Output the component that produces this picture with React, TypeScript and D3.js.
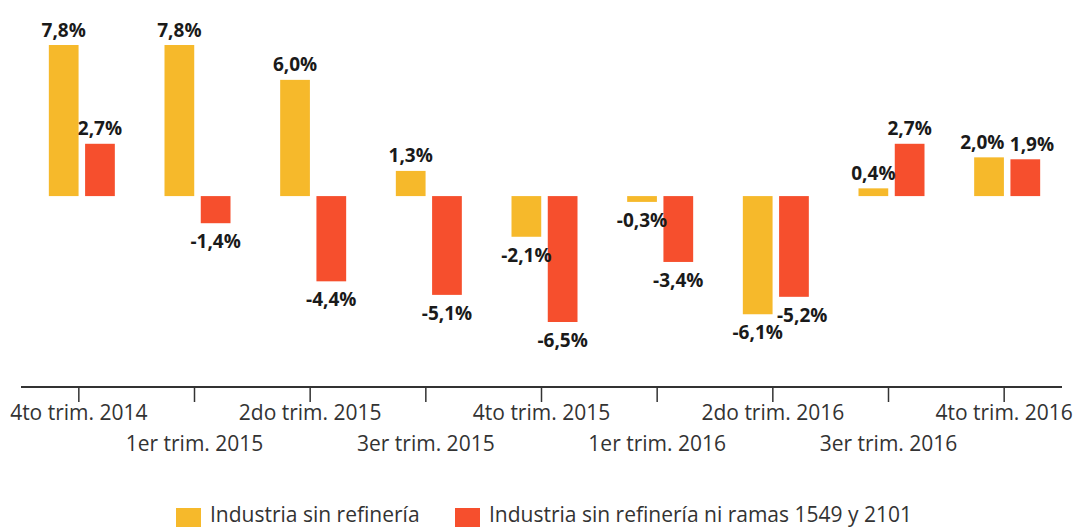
import React from "react";
import * as d3 from "d3";

const categories = [
  "4to trim. 2014",
  "1er trim. 2015",
  "2do trim. 2015",
  "3er trim. 2015",
  "4to trim. 2015",
  "1er trim. 2016",
  "2do trim. 2016",
  "3er trim. 2016",
  "4to trim. 2016",
];
const seriesNames = ["Industria sin refinería", "Industria sin refinería ni ramas 1549 y 2101"];
const industriaSinRefineria = [7.8, 7.8, 6.0, 1.3, -2.1, -0.3, -6.1, 0.4, 2.0];
const industriaSinRamas = [2.7, -1.4, -4.4, -5.1, -6.5, -3.4, -5.2, 2.7, 1.9];
const colors = ["#F6B92B", "#F64F2D"];

const W = 1074;
const H = 527;
const FONT = "'Open Sans', 'Noto Sans', sans-serif";
const VAL_SIZE = 19;

const fmt = (v: number) => v.toFixed(1).replace(".", ",") + "%";

export default function App() {
  const series = [industriaSinRefineria, industriaSinRamas];
  const x = d3.scaleBand<string>().domain(categories).range([21, 1062]).padding(0);
  const x1 = d3.scaleBand<number>().domain([0, 1]).range([0, 66]).paddingInner(0.18);
  const y = d3.scaleLinear().domain([-6.5, 7.8]).range([322, 45]);
  const axisY = 387;

  const estW = (s: string) => s.length * VAL_SIZE * 0.6;

  // labels with simple collision avoidance
  const groups = categories.map((c, i) => {
    const cx = (x(c) as number) + x.bandwidth() / 2;
    const items = series.map((s, k) => {
      const v = s[i];
      const bx = cx - 30 + (x1(k) as number);
      const bw = x1.bandwidth();
      const top = y(Math.max(0, v));
      const bottom = y(Math.min(0, v));
      const ly = v >= 0 ? top - 8.5 : bottom + 25;
      return { k, v, bx, bw, top, bottom, lx: bx + bw / 2, ly, text: fmt(v) };
    });
    const [a, b] = items;
    const dy = Math.abs(a.ly - b.ly);
    if (dy < 22) {
      const need = (estW(a.text) + estW(b.text)) / 2 + 4;
      const have = b.lx - a.lx;
      if (have < need) {
        if (dy < 8) {
          const d = (need - have) / 2;
          a.lx -= d;
          b.lx += d;
        } else {
          // partial vertical overlap: nudge the shorter bar's label outward
          const d = (need - have) / 3;
          if (Math.abs(a.v) < Math.abs(b.v)) a.lx -= d;
          else b.lx += d;
        }
      }
    }
    return { c, cx, items };
  });

  return (
    <svg
      width={W}
      height={H}
      style={{ position: "absolute", left: 0, top: 0, background: "#fff" }}
      fontFamily={FONT}
    >
      {groups.map((g) =>
        g.items.map((it) => (
          <rect
            key={g.c + it.k}
            x={it.bx}
            y={it.top}
            width={it.bw}
            height={Math.max(1, it.bottom - it.top)}
            fill={colors[it.k]}
          />
        ))
      )}
      {groups.map((g) =>
        g.items.map((it) => (
          <text
            key={"l" + g.c + it.k}
            x={it.lx}
            y={it.ly}
            textAnchor="middle"
            fontSize={VAL_SIZE}
            fontWeight={700}
            fill="#1a1a1a"
          >
            {it.text}
          </text>
        ))
      )}
      <line x1={21} x2={1062} y1={axisY} y2={axisY} stroke="#333" strokeWidth={2} />
      {groups.map((g, i) => (
        <g key={"t" + g.c}>
          <line x1={g.cx} x2={g.cx} y1={axisY} y2={axisY + 15} stroke="#333" strokeWidth={1.5} />
          <text
            x={g.cx}
            y={i % 2 === 0 ? 420 : 451}
            textAnchor="middle"
            fontSize={21}
            fill="#333"
          >
            {g.c}
          </text>
        </g>
      ))}
      {seriesNames.map((n, k) => {
        const lx = k === 0 ? 176 : 455;
        return (
          <g key={"lg" + k}>
            <rect x={lx} y={508} width={25} height={25} fill={colors[k]} />
            <text x={lx + 34} y={522} fontSize={21} fill="#333">
              {n}
            </text>
          </g>
        );
      })}
    </svg>
  );
}
